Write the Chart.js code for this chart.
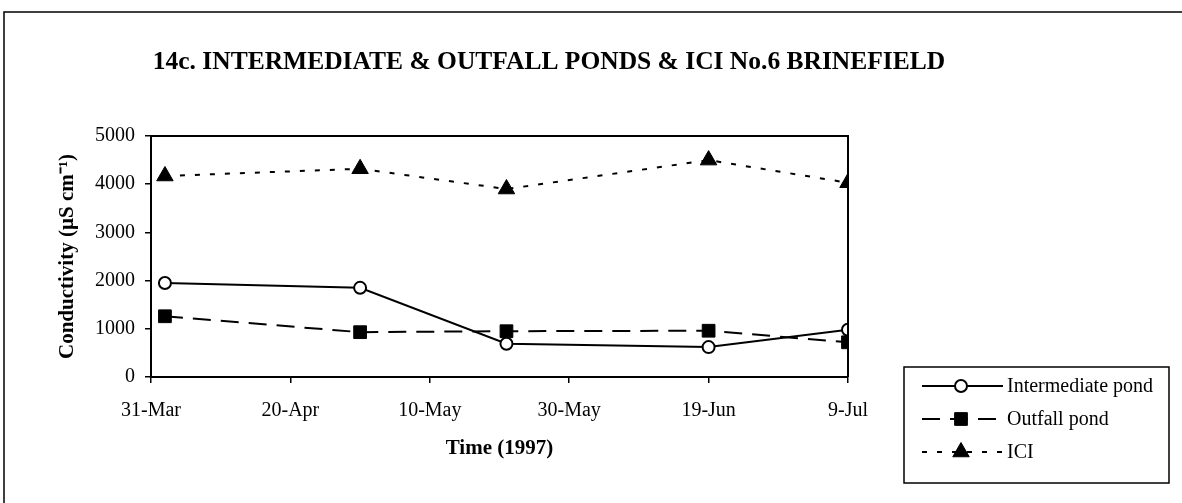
<!DOCTYPE html>
<html>
<head>
<meta charset="utf-8">
<title>14c. Intermediate & Outfall ponds & ICI No.6 Brinefield</title>
<script src="https://cdn.jsdelivr.net/npm/chart.js@4.4.1/dist/chart.umd.min.js"></script>
<style>
  html, body { margin: 0; padding: 0; background: #fff; }
  canvas { display: block; }
</style>
</head>
<body>
<canvas id="pondChart" width="1182" height="503"></canvas>
<script>
// Sampling dates (1997) and conductivity readings
const sampleDates = ['1997-04-02', '1997-04-30', '1997-05-21', '1997-06-19', '1997-07-09'];
const intermediatePond = [1950, 1850, 690, 620, 980];
const outfallPond = [1260, 930, 950, 960, 720];
const iciBrine = [4170, 4320, 3900, 4500, 4030];

// Axis ticks
const tickLabels = ['31-Mar', '20-Apr', '10-May', '30-May', '19-Jun', '9-Jul'];
const yTicks = [0, 1000, 2000, 3000, 4000, 5000];

const chartTitle = '14c. INTERMEDIATE & OUTFALL PONDS & ICI No.6 BRINEFIELD';
const seriesNames = ['Intermediate pond', 'Outfall pond', 'ICI'];

const serif = "'Liberation Serif', 'Times New Roman', serif";

// days after 31-Mar, used as x positions on a linear axis
const startDay = Date.UTC(1997, 2, 31);
function dayOffset(dateStr) {
    const parts = dateStr.split('-').map(Number);
    return Math.round((Date.UTC(parts[0], parts[1] - 1, parts[2]) - startDay) / 86400000);
}

function toPoints(values) {
    return values.map((v, i) => ({ x: dayOffset(sampleDates[i]), y: v }));
}

// Title, outer frame, plot box and the boxed legend
const decorations = {
    id: 'decorations',
    afterDraw(chart) {
        const ctx = chart.ctx;
        const area = chart.chartArea;
        ctx.save();

        // outer frame (left + top)
        ctx.strokeStyle = '#000';
        ctx.lineWidth = 1.5;
        ctx.beginPath();
        ctx.moveTo(4, 503);
        ctx.lineTo(4, 12);
        ctx.lineTo(1182, 12);
        ctx.stroke();

        // top and right edge of plot area
        ctx.lineWidth = 2;
        ctx.beginPath();
        ctx.moveTo(area.left, area.top);
        ctx.lineTo(area.right, area.top);
        ctx.lineTo(area.right, area.bottom);
        ctx.stroke();

        // title
        ctx.fillStyle = '#000';
        ctx.font = 'bold 25.5px ' + serif;
        ctx.textAlign = 'center';
        ctx.textBaseline = 'middle';
        ctx.fillText(chartTitle, 549, 62);

        // legend box
        ctx.lineWidth = 1.5;
        ctx.strokeRect(904, 367, 265, 116);
        ctx.font = '20px ' + serif;
        ctx.textAlign = 'left';
        chart.data.datasets.forEach((ds, i) => {
            const y = 386 + i * 33;
            ctx.save();
            ctx.strokeStyle = ds.borderColor;
            ctx.lineWidth = ds.borderWidth;
            ctx.setLineDash(ds.borderDash || []);
            ctx.beginPath();
            ctx.moveTo(922, y);
            ctx.lineTo(1003, y);
            ctx.stroke();
            ctx.restore();

            ctx.save();
            ctx.fillStyle = ds.pointBackgroundColor;
            ctx.strokeStyle = ds.pointBorderColor;
            ctx.lineWidth = ds.pointBorderWidth;
            Chart.helpers.drawPoint(ctx, {
                pointStyle: ds.pointStyle,
                radius: ds.pointRadius,
                rotation: 0,
                borderWidth: ds.pointBorderWidth
            }, 961, y);
            ctx.restore();

            ctx.fillStyle = '#000';
            ctx.fillText(ds.label, 1007, y + 1);
        });

        ctx.restore();
    }
};

new Chart(document.getElementById('pondChart'), {
    type: 'line',
    data: {
        datasets: [
            {
                label: seriesNames[0],
                data: toPoints(intermediatePond),
                borderColor: '#000',
                borderWidth: 2,
                pointStyle: 'circle',
                pointRadius: 6,
                pointBackgroundColor: '#fff',
                pointBorderColor: '#000',
                pointBorderWidth: 2
            },
            {
                label: seriesNames[1],
                data: toPoints(outfallPond),
                borderColor: '#000',
                borderWidth: 2,
                borderDash: [18, 10],
                pointStyle: 'rect',
                pointRadius: 9,
                pointBackgroundColor: '#000',
                pointBorderColor: '#000',
                pointBorderWidth: 1
            },
            {
                label: seriesNames[2],
                data: toPoints(iciBrine),
                borderColor: '#000',
                borderWidth: 2,
                borderDash: [5, 10],
                pointStyle: 'triangle',
                pointRadius: 9.5,
                pointBackgroundColor: '#000',
                pointBorderColor: '#000',
                pointBorderWidth: 1
            }
        ]
    },
    options: {
        responsive: false,
        animation: false,
        devicePixelRatio: 1,
        layout: { padding: { left: 0, top: 136, right: 334, bottom: 0 } },
        plugins: {
            legend: { display: false },
            tooltip: { enabled: false },
            title: { display: false }
        },
        scales: {
            x: {
                type: 'linear',
                min: 0,
                max: 100,
                afterFit(scale) { scale.height = 126; },
                afterBuildTicks(scale) {
                    scale.ticks = tickLabels.map((_, i) => ({ value: i * 20 }));
                },
                ticks: {
                    color: '#000',
                    font: { family: serif, size: 20 },
                    padding: 16,
                    maxRotation: 0,
                    autoSkip: false,
                    callback: (value) => tickLabels[Math.round(value / 20)]
                },
                grid: { drawOnChartArea: false, color: '#000', lineWidth: 1.5, tickLength: 6 },
                border: { color: '#000', width: 2 },
                title: {
                    display: true,
                    text: 'Time (1997)',
                    color: '#000',
                    font: { family: serif, size: 21, weight: 'bold' },
                    padding: { top: 0, bottom: 42 }
                }
            },
            y: {
                min: 0,
                max: 5000,
                afterFit(scale) { scale.width = 151; },
                afterBuildTicks(scale) {
                    scale.ticks = yTicks.map(v => ({ value: v }));
                },
                ticks: {
                    color: '#000',
                    font: { family: serif, size: 20 },
                    padding: 10,
                    callback: (value) => String(value)
                },
                grid: { drawOnChartArea: false, color: '#000', lineWidth: 1.5, tickLength: 6 },
                border: { color: '#000', width: 2 },
                title: {
                    display: true,
                    text: 'Conductivity (µS cm⁻¹)',
                    color: '#000',
                    font: { family: serif, size: 21, weight: 'bold' },
                    padding: { top: 55, bottom: 0 }
                }
            }
        }
    },
    plugins: [decorations]
});
</script>
</body>
</html>
